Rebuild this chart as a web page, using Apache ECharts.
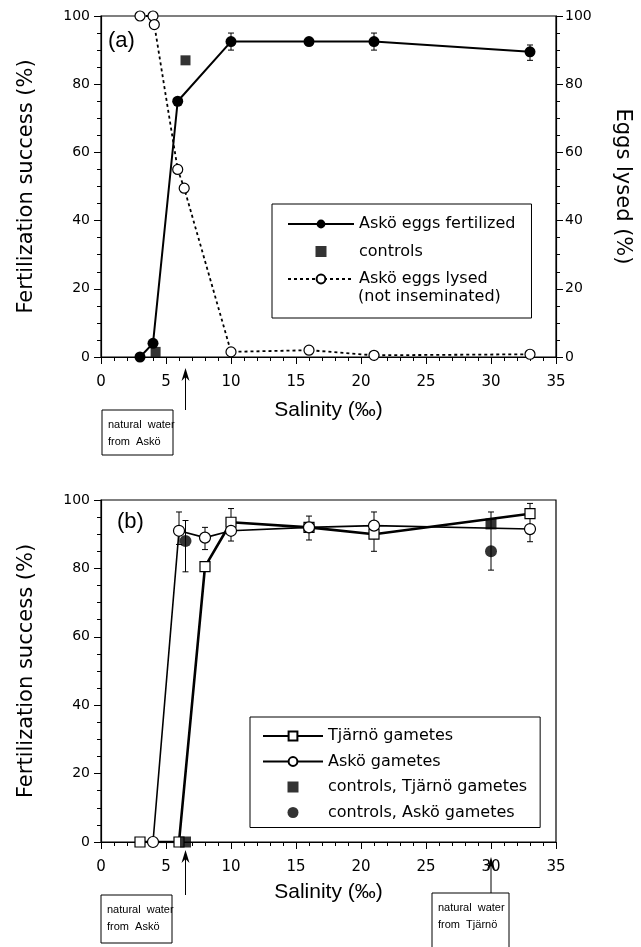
<!DOCTYPE html>
<html>
<head>
<meta charset="utf-8">
<script src="https://cdn.jsdelivr.net/npm/echarts@6/dist/echarts.min.js"></script>
<style>
  html, body { margin: 0; padding: 0; background: #fff; }
  #main { width: 641px; height: 947px; }
</style>
</head>
<body>
<div id="main"></div>
<script>
  // panel (a)
  var fertilizedA = [[3, 0], [4, 4], [5.9, 75], [10, 92.5], [16, 92.5], [21, 92.5], [33, 89.5]];
  var controlsA = [[4.2, 1.5], [6.5, 87]];
  var lysedA = [[3, 100], [4, 100], [4.1, 97.5], [5.9, 55], [6.4, 49.5], [10, 1.5], [16, 2], [21, 0.5], [33, 0.8]];
  var errA = [[10, 90, 95], [21, 90, 95], [33, 87, 91.5]];

  // panel (b)
  var tjarnoB = [[3, 0], [6, 0], [8, 80.5], [10, 93.5], [16, 92], [21, 90], [33, 96]];
  var askoB = [[4, 0], [6, 91], [8, 89], [10, 91], [16, 92], [21, 92.5], [33, 91.5]];
  var ctrlTjarnoB = [[6.5, 0], [30, 93]];
  var ctrlAskoB = [[6.5, 88], [30, 85]];
  var errB = [[6, 87, 96.5], [6.5, 79, 94], [8, 85.5, 92], [10, 88, 97.5], [16, 88.3, 95.3], [21, 85, 96.5], [30, 79.5, 96.5], [33, 87.8, 99]];

  var xTicks = [0, 35, 5];   // min, max, step
  var yTicks = [0, 100, 20];

  var FONT = 'Liberation Sans';
  var WIDE = 'DejaVu Sans';
  var SQUARE = 'path://M0,0h10v10h-10z';
  var chart = echarts.init(document.getElementById('main'));

  function renderErr(params, api) {
    var x = api.value(0);
    var lo = api.coord([x, api.value(1)]);
    var hi = api.coord([x, api.value(2)]);
    var st = { stroke: '#000', lineWidth: 1 };
    return {
      type: 'group',
      children: [
        { type: 'line', shape: { x1: lo[0], y1: lo[1], x2: hi[0], y2: hi[1] }, style: st },
        { type: 'line', shape: { x1: lo[0] - 3, y1: lo[1], x2: lo[0] + 3, y2: lo[1] }, style: st },
        { type: 'line', shape: { x1: hi[0] - 3, y1: hi[1], x2: hi[0] + 3, y2: hi[1] }, style: st }
      ]
    };
  }

  function xAxis(gridIndex, gap) {
    return {
      type: 'value', gridIndex: gridIndex,
      min: xTicks[0], max: xTicks[1], interval: xTicks[2],
      name: 'Salinity (‰)', nameLocation: 'middle', nameGap: gap,
      nameTextStyle: { fontFamily: FONT, fontSize: 21, color: '#000' },
      axisLine: { lineStyle: { color: '#000', width: 1.2 } },
      axisTick: { inside: false, length: 7, lineStyle: { color: '#000' } },
      minorTick: { show: true, splitNumber: 5, length: 4, lineStyle: { color: '#000' } },
      axisLabel: { margin: 18, fontFamily: WIDE, fontSize: 15, color: '#000' },
      splitLine: { show: false }
    };
  }

  function yAxis(gridIndex, pos, name, gap, showLabel) {
    return {
      type: 'value', gridIndex: gridIndex, position: pos,
      min: yTicks[0], max: yTicks[1], interval: yTicks[2],
      name: name, nameLocation: 'middle', nameGap: gap,
      nameRotate: pos === 'left' ? 90 : -90,
      nameTextStyle: { fontFamily: WIDE, fontSize: 21, color: '#000' },
      axisLine: { show: true, lineStyle: { color: '#000', width: 1.2 } },
      axisTick: { show: true, inside: false, length: 7, lineStyle: { color: '#000' } },
      minorTick: { show: true, splitNumber: 4, length: 4, lineStyle: { color: '#000' } },
      axisLabel: { show: showLabel, margin: pos === 'left' ? 11 : 9, fontFamily: WIDE, fontSize: 14, color: '#000' },
      splitLine: { show: false }
    };
  }

  var option = {
    animation: false,
    backgroundColor: '#fff',
    grid: [
      { left: 101, right: 83, top: 16, height: 341, show: true, borderColor: '#000', borderWidth: 1.2 },
      { left: 101, right: 85, top: 500, height: 342, show: true, borderColor: '#000', borderWidth: 1.2 }
    ],
    xAxis: [xAxis(0, 43), xAxis(1, 40)],
    yAxis: [
      yAxis(0, 'left', 'Fertilization success (%)', 64, true),
      yAxis(0, 'right', 'Eggs lysed (%)', 56, true),
      yAxis(1, 'left', 'Fertilization success (%)', 64, true)
    ],
    legend: [
      {
        left: 272, top: 204, orient: 'vertical',
        itemWidth: 66, itemHeight: 11, itemGap: 11.5,
        padding: [12, 16, 31, 15],
        borderColor: '#000', borderWidth: 1, backgroundColor: '#fff',
        selectedMode: false,
        textStyle: { fontFamily: WIDE, fontSize: 16, color: '#000' },
        data: [
          { name: 'Askö eggs fertilized' },
          { name: 'controls', icon: SQUARE },
          { name: 'Askö eggs lysed' }
        ]
      },
      {
        left: 250, top: 717, orient: 'vertical',
        itemWidth: 60, itemHeight: 11, itemGap: 9.5,
        padding: [11, 13, 7, 12],
        borderColor: '#000', borderWidth: 1, backgroundColor: '#fff',
        selectedMode: false,
        textStyle: { fontFamily: WIDE, fontSize: 16, color: '#000' },
        data: [
          { name: 'Tjärnö gametes' },
          { name: 'Askö gametes' },
          { name: 'controls, Tjärnö gametes', icon: SQUARE },
          { name: 'controls, Askö gametes' }
        ]
      }
    ],
    series: [
      { type: 'custom', name: 'errA', xAxisIndex: 0, yAxisIndex: 0, renderItem: renderErr,
        encode: { x: 0, y: [1, 2] }, data: errA, z: 1 },
      { type: 'line', name: 'Askö eggs lysed', xAxisIndex: 0, yAxisIndex: 1, data: lysedA,
        symbol: 'circle', symbolSize: 10,
        itemStyle: { color: '#fff', borderColor: '#000', borderWidth: 1.2 },
        lineStyle: { color: '#000', width: 1.8, type: [3, 3] }, z: 3 },
      { type: 'line', name: 'Askö eggs fertilized', xAxisIndex: 0, yAxisIndex: 0, data: fertilizedA,
        symbol: 'circle', symbolSize: 11,
        itemStyle: { color: '#000' },
        lineStyle: { color: '#000', width: 2 }, z: 4 },
      { type: 'scatter', name: 'controls', xAxisIndex: 0, yAxisIndex: 0, data: controlsA,
        symbol: 'rect', symbolSize: 10, itemStyle: { color: '#000' }, z: 5 },

      { type: 'custom', name: 'errB', xAxisIndex: 1, yAxisIndex: 2, renderItem: renderErr,
        encode: { x: 0, y: [1, 2] }, data: errB, z: 1 },
      { type: 'line', name: 'Tjärnö gametes', xAxisIndex: 1, yAxisIndex: 2, data: tjarnoB,
        symbol: 'rect', symbolSize: 10,
        itemStyle: { color: '#fff', borderColor: '#000', borderWidth: 1.2 },
        lineStyle: { color: '#000', width: 2.6 }, z: 3 },
      { type: 'line', name: 'Askö gametes', xAxisIndex: 1, yAxisIndex: 2, data: askoB,
        symbol: 'circle', symbolSize: 11,
        itemStyle: { color: '#fff', borderColor: '#000', borderWidth: 1.2 },
        lineStyle: { color: '#000', width: 1.6 }, z: 4 },
      { type: 'scatter', name: 'controls, Tjärnö gametes', xAxisIndex: 1, yAxisIndex: 2, data: ctrlTjarnoB,
        symbol: 'rect', symbolSize: 11, itemStyle: { color: '#000' }, z: 5 },
      { type: 'scatter', name: 'controls, Askö gametes', xAxisIndex: 1, yAxisIndex: 2, data: ctrlAskoB,
        symbol: 'circle', symbolSize: 12, itemStyle: { color: '#000' }, z: 5 }
    ]
  };
  chart.setOption(option);

  // annotation arrows and boxes
  function noteBox(x, y, w, h, text) {
    return [
      { type: 'rect', z: 100, shape: { x: x, y: y, width: w, height: h },
        style: { fill: '#fff', stroke: '#000', lineWidth: 1 } },
      { type: 'text', z: 101, x: x + 6, y: y + 6,
        style: { text: text, font: '11px "' + FONT + '"', fill: '#000', lineHeight: 17 } }
    ];
  }
  function arrow(x, yFrom, yTo) {
    return [
      { type: 'line', z: 100, shape: { x1: x, y1: yFrom, x2: x, y2: yTo + 6 }, style: { stroke: '#000', lineWidth: 1 } },
      { type: 'polygon', z: 100, shape: { points: [[x, yTo], [x - 4, yTo + 13], [x, yTo + 9], [x + 4, yTo + 13]] },
        style: { fill: '#000' } }
    ];
  }
  var xa = chart.convertToPixel({ xAxisIndex: 0 }, 6.5);
  var xb = chart.convertToPixel({ xAxisIndex: 1 }, 6.5);
  var xt = chart.convertToPixel({ xAxisIndex: 1 }, 30);

  var g = [];
  g = g.concat(arrow(xa, 410, 368), noteBox(102, 410, 71, 45, 'natural  water\nfrom  Askö'));
  g = g.concat(arrow(xb, 895, 850), noteBox(101, 895, 71, 48, 'natural  water\nfrom  Askö'));
  g = g.concat(arrow(xt, 893, 857), noteBox(432, 893, 77, 60, 'natural  water\nfrom  Tjärnö'));
  g.push({ type: 'text', z: 100, x: 108, y: 30, style: { text: '(a)', font: '22px "' + FONT + '"', fill: '#000' } });
  g.push({ type: 'text', z: 100, x: 117, y: 511, style: { text: '(b)', font: '22px "' + FONT + '"', fill: '#000' } });
  g.push({ type: 'text', z: 100, x: 358, y: 289, style: { text: '(not inseminated)', font: '16px "' + WIDE + '"', fill: '#000' } });

  chart.setOption({ graphic: g });
</script>
</body>
</html>
